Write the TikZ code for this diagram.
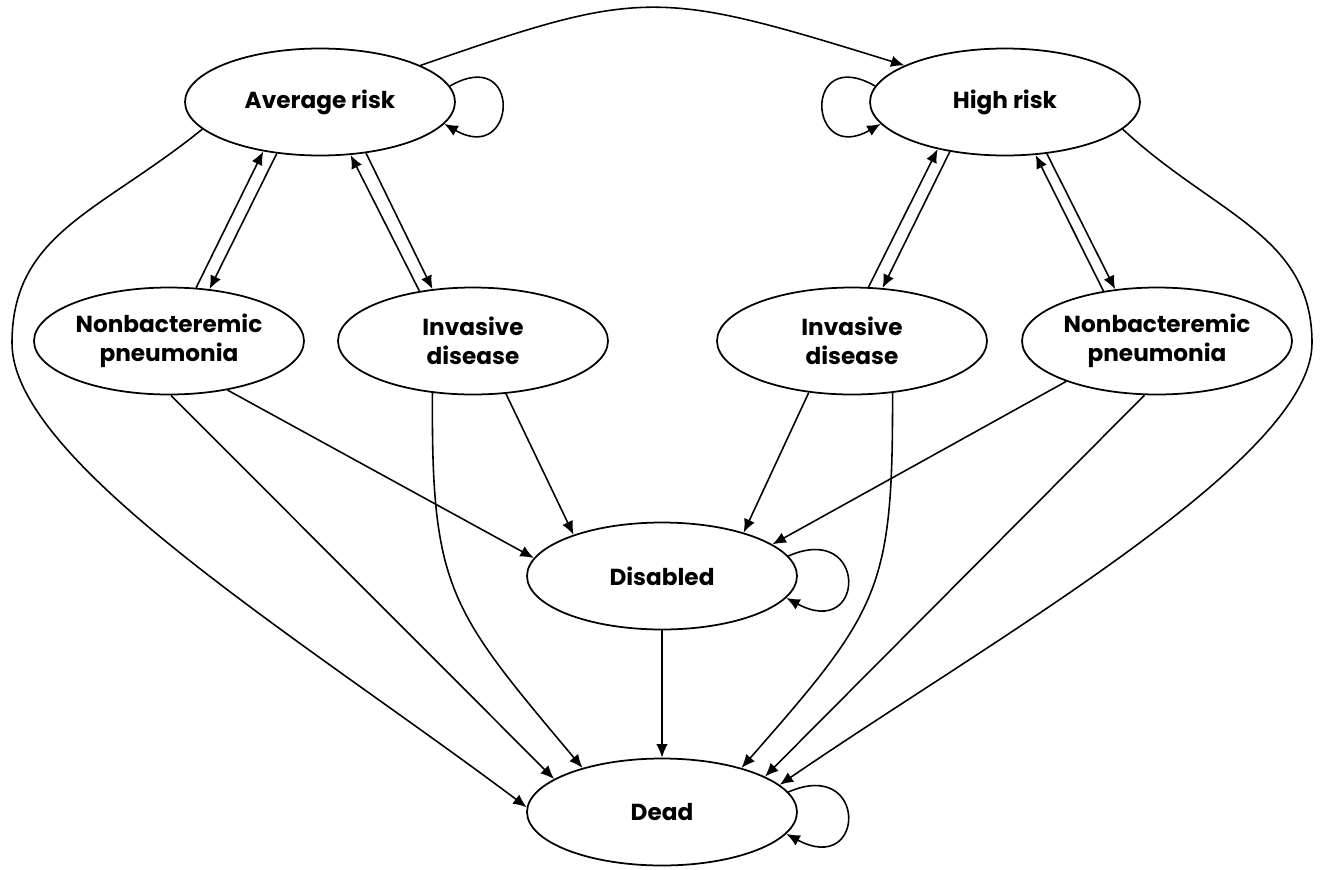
\documentclass[tikz,border=0pt]{standalone}
\usepackage{fontspec}
\setmainfont{Poppins}
\usetikzlibrary{arrows.meta,shapes.geometric}
\tikzset{
state/.style={ellipse,draw,line width=1pt,minimum width=5.4cm,minimum height=2.14cm,inner sep=1pt,align=center,font=\fontsize{13.2}{16.3}\selectfont\bfseries},
trans/.style={-{Latex[length=2.7mm,width=2.3mm]},line width=0.9pt}
}
\begin{document}
\begin{tikzpicture}[x=0.02cm,y=-0.02cm]
\useasboundingbox (0,0) rectangle (1321,869);
%%% risk groups
\node[state] (avg)  at (320,102)  {Average risk};
\node[state] (high) at (1005,102) {High risk};
%%% disease states
\node[state] (pnL)  at (169,341)  {Nonbacteremic\\pneumonia};
\node[state] (invL) at (473,341)  {Invasive\\disease};
\node[state] (invR) at (852,341)  {Invasive\\disease};
\node[state] (pnR)  at (1157,341) {Nonbacteremic\\pneumonia};
%%% outcomes
\node[state] (dis)  at (662,576)  {Disabled};
\node[state] (dead) at (662,812)  {Dead};
\coordinate (bendL) at (12,343);
\coordinate (bendR) at (1312,343);
%%% self loops
\draw[trans] (avg.7) .. controls +(73,-42) and +(73,42) .. (avg.-10);
\draw[trans] (high.173) .. controls +(-73,-42) and +(-73,42) .. (high.-170);
\foreach \n in {dis,dead}
  \draw[trans] (\n.9) .. controls +(80,-35) and +(80,43) .. (\n.-10);
%%% risk change
\draw[trans] (avg.20) .. controls +(222,-77) and +(-248,-77) .. (high.160);
%%% back and forth
\draw[trans] (pnL.63) -- (avg.-139);
\draw[trans] (avg.-130) -- (pnL.52);
\draw[trans] (invL.137) -- (avg.-60);
\draw[trans] (avg.-48) -- (invL.128);
\draw[trans] (invR.73) -- (high.-145);
\draw[trans] (high.-138) -- (invR.60);
\draw[trans] (pnR.137) -- (high.-60);
\draw[trans] (high.-51) -- (pnR.129);
%%% to disabled
\draw[trans] (pnL.-40) -- (dis.172);
\draw[trans] (invL.-58) -- (dis.155);
\draw[trans] (invR.-130) -- (dis.28);
\draw[trans] (pnR.-156) -- (dis.16);
%%% to dead
\draw[trans] (avg.-167) .. controls (100,212) and (12,233) .. (bendL)
  .. controls (12,463) and (305,641) .. (dead.178);
\draw[trans] (high.-13) .. controls (1215,215) and (1312,235) .. (bendR)
  .. controls (1312,460) and (991,640) .. (dead.13);
\draw[trans] (pnL.-88) -- (dead.163);
\draw[trans] (invL.-128) .. controls (431,590) and (450,610) .. (dead.151);
\draw[trans] (invR.-52) .. controls (893,590) and (880,610) .. (dead.29);
\draw[trans] (pnR.-103) -- (dead.19);
\draw[trans] (dis) -- (dead);
\end{tikzpicture}
\end{document}
